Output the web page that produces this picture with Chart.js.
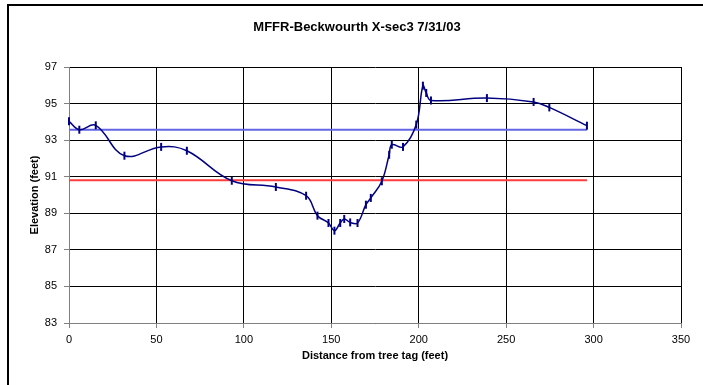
<!DOCTYPE html>
<html>
<head>
<meta charset="utf-8">
<title>MFFR-Beckwourth X-sec3 7/31/03</title>
<script src="https://cdn.jsdelivr.net/npm/chart.js@4.4.1/dist/chart.umd.min.js"></script>
<style>
  html, body { margin: 0; padding: 0; background: #fff; }
  #wrap { width: 703px; height: 385px; }
</style>
</head>
<body>
<div id="wrap"><canvas id="xsecChart" width="703" height="385"></canvas></div>
<script>
// survey points
const distance = [0, 5.9, 15.3, 31.7, 52.7, 67.4, 93.1, 118.3, 135.6, 142.1, 148.4, 151.8, 155.1,
  157.4, 160.8, 165, 169.8, 172.6, 178.9, 183.1, 184.6, 191, 198.6, 202.4, 204.3, 207, 239, 265.7, 274.7, 296.2];
const elevation = [94.03, 93.57, 93.81, 92.15, 92.63, 92.42, 90.78, 90.44, 89.96, 88.87, 88.47, 88.05, 88.47,
  88.69, 88.5, 88.47, 89.47, 89.84, 90.75, 92.2, 92.75, 92.63, 93.85, 95.98, 95.58, 95.17, 95.3, 95.09, 94.79, 93.79];

// the two flat reference lines
const levelExtent = [0, 296.2];
const blueLevel = [93.57, 93.57];
const redLevel = [90.8, 90.8];

const xTicks = [0, 50, 100, 150, 200, 250, 300, 350];
const yTicks = [83, 85, 87, 89, 91, 93, 95, 97];

const chartTitle = "MFFR-Beckwourth X-sec3 7/31/03";
const FONT = "'Liberation Sans', Arial, sans-serif";

const toPoints = (xs, ys) => xs.map((x, i) => ({ x: x, y: ys[i] }));

// outer frame + title, the way the old spreadsheet chart had it
const framePlugin = {
  id: "frame",
  afterDraw(chart) {
    const ctx = chart.ctx;
    ctx.save();
    ctx.strokeStyle = "#000";
    ctx.lineWidth = 2;
    ctx.beginPath();
    ctx.moveTo(8, 385);
    ctx.lineTo(8, 5);
    ctx.lineTo(703, 5);
    ctx.stroke();
    ctx.fillStyle = "#000";
    ctx.font = "bold 13px " + FONT;
    ctx.textAlign = "center";
    ctx.textBaseline = "middle";
    ctx.fillText(chartTitle, 357, 27);
    ctx.restore();
  },
};

const renderChart = () => {
  var ctx = document.getElementById("xsecChart").getContext("2d");
  var myChart = new Chart(ctx, {
    type: "line",
    data: {
      datasets: [
        {
          label: "Elevation",
          data: toPoints(distance, elevation),
          borderColor: "#000080",
          borderWidth: 1.5,
          tension: 0.4,
          pointStyle: "line",
          rotation: 90,
          pointRadius: 4,
          pointBorderWidth: 2,
          pointBorderColor: "#000080",
          clip: false,
        },
        {
          label: "Upper level",
          data: toPoints(levelExtent, blueLevel),
          borderColor: "rgb(100, 100, 230)",
          borderWidth: 2,
          pointRadius: 0,
        },
        {
          label: "Lower level",
          data: toPoints(levelExtent, redLevel),
          borderColor: "rgb(255, 60, 60)",
          borderWidth: 2,
          pointRadius: 0,
        },
      ],
    },
    options: {
      responsive: false,
      animation: false,
      layout: { padding: { left: 0, top: 67, right: 22, bottom: 0 } },
      plugins: {
        legend: { display: false },
        tooltip: { enabled: false },
        title: { display: false },
      },
      scales: {
        x: {
          type: "linear",
          min: 0,
          max: 350,
          afterBuildTicks: (scale) => { scale.ticks = xTicks.map((v) => ({ value: v })); },
          afterFit: (scale) => { scale.height = 62; },
          grid: { color: "#000", lineWidth: 1, tickLength: 5, tickColor: "#808080" },
          border: { color: "#808080", width: 1 },
          ticks: { color: "#000", font: { family: FONT, size: 11 }, padding: 5, maxRotation: 0 },
          title: {
            display: true,
            text: "Distance from tree tag (feet)",
            color: "#000",
            font: { family: FONT, size: 11, weight: "bold" },
            padding: { top: 0, bottom: 22 },
          },
        },
        y: {
          min: 83,
          max: 97,
          afterBuildTicks: (scale) => { scale.ticks = yTicks.map((v) => ({ value: v })); },
          afterFit: (scale) => { scale.width = 69; },
          grid: { color: "#000", lineWidth: 1, tickLength: 5, tickColor: "#808080" },
          border: { color: "#808080", width: 1 },
          ticks: { color: "#000", font: { family: FONT, size: 11 }, padding: 7 },
          title: {
            display: true,
            text: "Elevation (feet)",
            color: "#000",
            font: { family: FONT, size: 11, weight: "bold" },
            padding: { top: 28, bottom: 0 },
          },
        },
      },
    },
    plugins: [framePlugin],
  });
};

renderChart();
</script>
</body>
</html>
